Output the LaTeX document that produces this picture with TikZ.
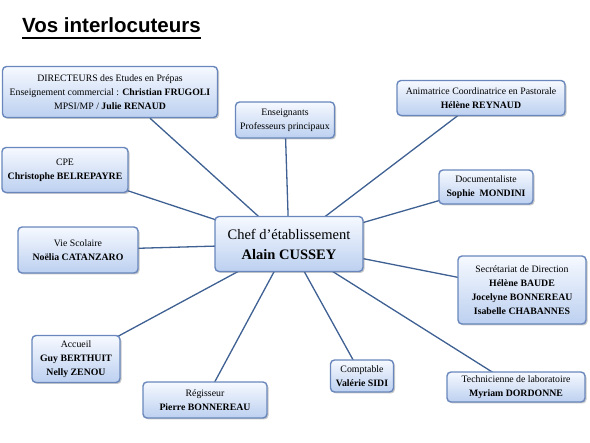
\documentclass[tikz,border=0pt]{standalone}
\usepackage{fontspec}
\setmainfont{Liberation Serif}
\newfontfamily\titlefont{Liberation Sans}
\usetikzlibrary{shadows,backgrounds}
\definecolor{linec}{RGB}{62,96,146}
\definecolor{boxedge}{RGB}{105,135,188}
\definecolor{boxtop}{RGB}{246,249,255}
\definecolor{boxbot}{RGB}{188,208,240}
\tikzset{
  box/.style={draw=boxedge, line width=1.4pt, rounded corners=4pt,
    top color=boxtop, bottom color=boxbot, align=center,
    inner sep=1pt, font=\fontsize{9.8}{13.8}\selectfont,
    drop shadow={shadow xshift=1.5pt, shadow yshift=-1.5pt, opacity=0.35, fill=black!60}},
  link/.style={draw=linec, line width=1.3pt}
}
\begin{document}
\begin{tikzpicture}[x=1pt,y=-1pt]
\useasboundingbox (0,0) rectangle (590,443);
\node[anchor=base west, inner sep=0pt, font=\titlefont\fontsize{20.5}{23}\selectfont\bfseries] (title) at (22,33) {Vos interlocuteurs};
\draw[line width=1.4pt] (22,38) -- (201,38);

\node[box, minimum width=148pt, minimum height=55pt, font=\fontsize{14.5}{20}\selectfont] (chef) at (289,244) {Chef d’établissement\\\textbf{Alain CUSSEY}};

\node[box, minimum width=215pt, minimum height=51pt] (dir) at (110,92) {DIRECTEURS des Etudes en Prépas\\Enseignement commercial : \textbf{Christian FRUGOLI}\\MPSI/MP / \textbf{Julie RENAUD}};
\node[box, minimum width=99pt, minimum height=36pt] (ens) at (285,120) {Enseignants\\Professeurs principaux};
\node[box, minimum width=168pt, minimum height=35pt] (anim) at (481,98) {Animatrice Coordinatrice en Pastorale\\\textbf{Hélène REYNAUD}};
\node[box, minimum width=126pt, minimum height=45pt] (cpe) at (65,170) {CPE\\\textbf{Christophe BELREPAYRE}};
\node[box, minimum width=94pt, minimum height=34pt] (doc) at (486,187) {Documentaliste\\\textbf{Sophie\ \ MONDINI}};
\node[box, minimum width=120pt, minimum height=46pt] (vie) at (78,250) {Vie Scolaire\\\textbf{Noëlia CATANZARO}};
\node[box, minimum width=128pt, minimum height=68pt] (sec) at (522,290) {Secrétariat de Direction\\\textbf{Hélène BAUDE}\\\textbf{Jocelyne BONNEREAU}\\\textbf{Isabelle CHABANNES}};
\node[box, minimum width=88pt, minimum height=47pt] (acc) at (76,359) {Accueil\\\textbf{Guy BERTHUIT}\\\textbf{Nelly ZENOU}};
\node[box, minimum width=124pt, minimum height=36pt] (reg) at (205,400) {Régisseur\\\textbf{Pierre BONNEREAU}};
\node[box, minimum width=63pt, minimum height=32pt] (comp) at (362,376) {Comptable\\\textbf{Valérie SIDI}};
\node[box, minimum width=138pt, minimum height=30pt] (tech) at (516,387) {Technicienne de laboratoire\\\textbf{Myriam DORDONNE}};

\coordinate (dirend) at ([xshift=40pt]dir.south);
\begin{scope}[on background layer]
\draw[link] (chef.center) -- (dirend);
\foreach \n in {ens,anim,cpe,doc,vie,sec,acc,reg,comp,tech}
  \draw[link] (chef.center) -- (\n.center);
\end{scope}
\end{tikzpicture}
\end{document}
